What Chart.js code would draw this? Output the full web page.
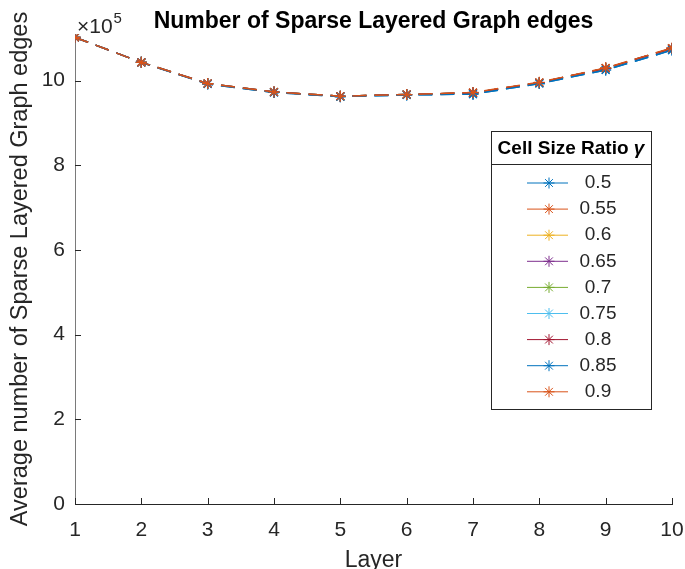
<!DOCTYPE html>
<html>
<head>
<meta charset="utf-8">
<script src="https://cdn.jsdelivr.net/npm/chart.js@4"></script>
<style>
  html, body { margin: 0; padding: 0; background: #fff; }
  #wrap { width: 685px; height: 569px; }
</style>
</head>
<body>
<div id="wrap"><canvas id="edgeChart" width="685" height="569"></canvas></div>
<script>
// data (average edge counts per layer, one series per cell size ratio)
const layers = [1, 2, 3, 4, 5, 6, 7, 8, 9, 10];
const ratioNames = ['0.5', '0.55', '0.6', '0.65', '0.7', '0.75', '0.8', '0.85', '0.9'];
const edges05  = [1102000, 1043000, 992000, 972000, 962000, 966000, 968000, 993000, 1025000, 1072000];
const edges055 = [1102000, 1043000, 993000, 973000, 963000, 967000, 971000, 995000, 1029000, 1076000];
const edges06  = [1102000, 1043000, 993000, 973000, 963000, 967000, 971000, 995000, 1029000, 1076000];
const edges065 = [1102000, 1043000, 993000, 973000, 963000, 967000, 971000, 995000, 1029000, 1076000];
const edges07  = [1102000, 1043000, 993000, 973000, 963000, 967000, 971000, 995000, 1029000, 1076000];
const edges075 = [1102000, 1043000, 993000, 973000, 963000, 967000, 971000, 995000, 1029000, 1076000];
const edges08  = [1102000, 1043000, 993000, 973000, 963000, 967000, 971000, 995000, 1029000, 1076000];
const edges085 = [1102000, 1043000, 992000, 972000, 962000, 966000, 968000, 993000, 1025000, 1072000];
const edges09  = [1102000, 1043000, 993000, 973000, 963000, 967000, 972000, 996000, 1030000, 1077000];
const allEdges = [edges05, edges055, edges06, edges065, edges07, edges075, edges08, edges085, edges09];
const yTicks = [0, 200000, 400000, 600000, 800000, 1000000];

const colors = ['#0072BD', '#D95319', '#EDB120', '#7E2F8E', '#77AC30', '#4DBEEE', '#A2142F', '#0072BD', '#D95319'];
const FONT = '"Liberation Sans", Arial, Helvetica, sans-serif';
const INK = '#262626';

const datasets = ratioNames.map(function (name, i) {
  return {
    label: name,
    data: layers.map(function (x, j) { return { x: x, y: allEdges[i][j] }; }),
    borderColor: colors[i],
    backgroundColor: colors[i],
    borderWidth: 1.5,
    borderDash: [14, 8],
    pointStyle: 'star',
    pointRadius: 5.5,
    pointBorderWidth: 1.2,
    pointBorderColor: colors[i],
    tension: 0,
    fill: false,
    order: ratioNames.length - i
  };
});

// inward tick marks, title, exponent and boxed legend
const decorPlugin = {
  id: 'decor',
  afterDraw(chart) {
    const ctx = chart.ctx;
    const area = chart.chartArea;
    const xs = chart.scales.x, ys = chart.scales.y;
    ctx.save();
    ctx.strokeStyle = INK;
    ctx.lineWidth = 1;
    ctx.beginPath();
    layers.forEach(function (v) {
      const px = Math.round(xs.getPixelForValue(v)) + 0.5;
      ctx.moveTo(px, area.bottom);
      ctx.lineTo(px, area.bottom - 6);
    });
    yTicks.forEach(function (v) {
      const py = Math.round(ys.getPixelForValue(v)) + 0.5;
      ctx.moveTo(area.left, py);
      ctx.lineTo(area.left + 6, py);
    });
    ctx.stroke();

    // title
    ctx.fillStyle = '#000';
    ctx.font = 'bold 23px ' + FONT;
    ctx.textAlign = 'center';
    ctx.textBaseline = 'alphabetic';
    ctx.fillText('Number of Sparse Layered Graph edges', (area.left + area.right) / 2, 28);

    // exponent
    ctx.fillStyle = INK;
    ctx.textAlign = 'left';
    ctx.font = '21px ' + FONT;
    ctx.fillText('\u00d710', area.left + 2, 33);
    const w10 = ctx.measureText('\u00d710').width;
    ctx.font = '15px ' + FONT;
    ctx.fillText('5', area.left + 2 + w10 + 1, 23);

    // legend
    const bx = area.right - 181, by = area.top + 97, bw = 160, bh = 278;
    ctx.fillStyle = '#fff';
    ctx.fillRect(bx, by, bw, bh);
    ctx.strokeStyle = INK;
    ctx.lineWidth = 1;
    ctx.strokeRect(bx + 0.5, by + 0.5, bw, bh);
    ctx.beginPath();
    ctx.moveTo(bx, by + 33.5);
    ctx.lineTo(bx + bw, by + 33.5);
    ctx.stroke();

    ctx.fillStyle = '#000';
    ctx.textBaseline = 'middle';
    ctx.font = 'bold 19px ' + FONT;
    const head = 'Cell Size Ratio ';
    const hw = ctx.measureText(head).width;
    ctx.font = 'bold italic 19px ' + FONT;
    const gw = ctx.measureText('\u03b3').width;
    const hx = bx + bw / 2 - (hw + gw) / 2;
    ctx.font = 'bold 19px ' + FONT;
    ctx.textAlign = 'left';
    ctx.fillText(head, hx, by + 18);
    ctx.font = 'bold italic 19px ' + FONT;
    ctx.fillText('\u03b3', hx + hw, by + 18);

    ratioNames.forEach(function (name, i) {
      const ry = by + 52 + i * 26.1;
      ctx.strokeStyle = colors[i];
      ctx.lineWidth = 1;
      ctx.beginPath();
      ctx.moveTo(bx + 36, ry);
      ctx.lineTo(bx + 77, ry);
      ctx.stroke();
      Chart.helpers.drawPoint(ctx, { pointStyle: 'star', radius: 5.5, borderWidth: 1.2 }, bx + 58, ry);
      ctx.fillStyle = INK;
      ctx.font = '19px ' + FONT;
      ctx.textAlign = 'center';
      ctx.fillText(name, bx + 107, ry);
    });
    ctx.restore();
  }
};

const ctx = document.getElementById('edgeChart').getContext('2d');

const edgeChart = new Chart(ctx, {
  type: 'line',
  data: { datasets: datasets },
  options: {
    responsive: false,
    animation: false,
    layout: { autoPadding: false, padding: { left: 0, right: 13, top: 34, bottom: 0 } },
    plugins: {
      legend: { display: false },
      tooltip: { enabled: false },
      title: { display: false }
    },
    scales: {
      x: {
        type: 'linear',
        min: 1,
        max: 10,
        afterFit: function (scale) {
          scale.height = 65;
          scale.paddingLeft = 0;
          scale.paddingRight = 0;
        },
        afterBuildTicks: function (scale) {
          scale.ticks = layers.map(function (v) { return { value: v }; });
        },
        grid: { display: true, drawOnChartArea: false, drawTicks: false },
        border: { display: true, color: INK, width: 1 },
        ticks: {
          padding: 14,
          color: INK,
          font: { family: FONT, size: 21 },
          maxRotation: 0
        },
        title: {
          display: true,
          text: 'Layer',
          color: INK,
          font: { family: FONT, size: 23, lineHeight: 0.75 },
          padding: { top: 0, bottom: 0 }
        }
      },
      y: {
        min: 0,
        max: 1110000,
        afterFit: function (scale) {
          scale.width = 75;
          scale.paddingTop = 0;
          scale.paddingBottom = 0;
        },
        afterBuildTicks: function (scale) {
          scale.ticks = yTicks.map(function (v) { return { value: v }; });
        },
        grid: { display: true, drawOnChartArea: false, drawTicks: false },
        border: { display: true, color: '#7a7a7a', width: 1 },
        ticks: {
          padding: 10,
          color: INK,
          font: { family: FONT, size: 21 },
          callback: function (value) { return value / 100000; }
        },
        title: {
          display: true,
          text: 'Average number of Sparse Layered Graph edges',
          color: INK,
          font: { family: FONT, size: 23.5, lineHeight: 1 },
          padding: { top: 8.5, bottom: 0 }
        }
      }
    }
  },
  plugins: [decorPlugin]
});
</script>
</body>
</html>
